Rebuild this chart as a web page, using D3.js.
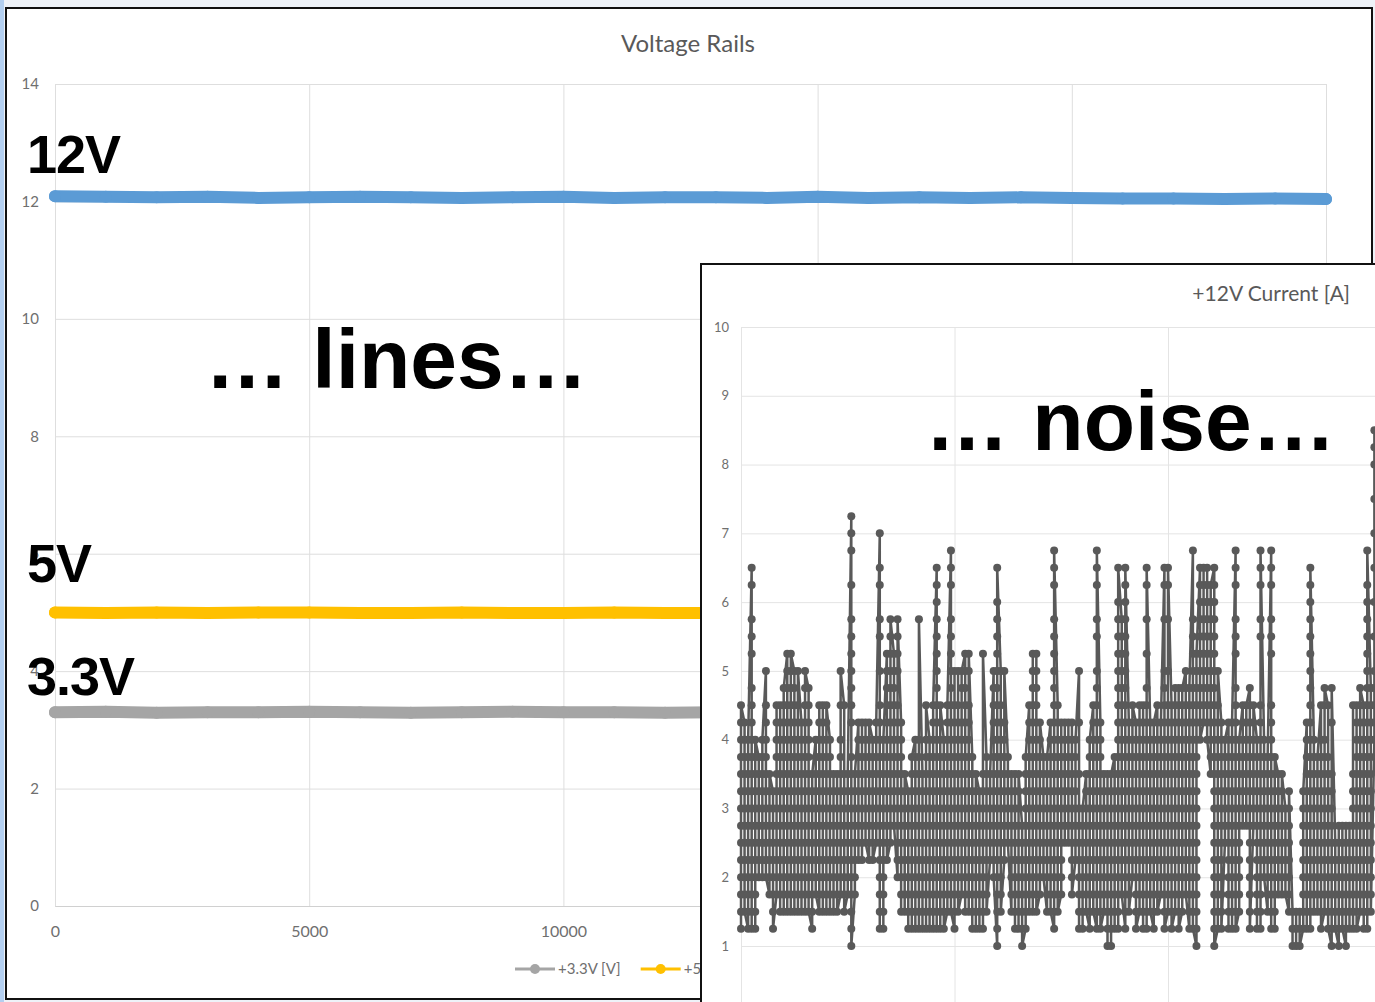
<!DOCTYPE html>
<html>
<head>
<meta charset="utf-8">
<script src="https://cdn.jsdelivr.net/npm/d3@7"></script>
<style>
  html, body { margin: 0; padding: 0; background: #eef2f8; }
  svg { display: block; }
</style>
</head>
<body>
<svg id="chart" width="1375" height="1002"></svg>
<script>
// ---- back chart: voltage rails ----
const RAIL_T = [0, 1000, 2000, 3000, 4000, 5000, 6000, 7000, 8000, 9000, 10000, 11000, 12000,
  13000, 14000, 15000, 16000, 17000, 18000, 19000, 20000, 21000, 22000, 23000, 24000, 25000];
const RAIL_12V = [12.09, 12.08, 12.07, 12.08, 12.06, 12.07, 12.08, 12.07, 12.06, 12.07, 12.08, 12.06, 12.07,
  12.07, 12.06, 12.08, 12.06, 12.07, 12.06, 12.07, 12.06, 12.05, 12.05, 12.04, 12.05, 12.04];
const RAIL_5V = [5.0, 4.99, 5.0, 4.99, 5.0, 5.0, 4.99, 4.99, 5.0, 4.99, 4.99, 5.0, 4.99,
  4.99, 4.99, 5.0, 4.99, 4.99, 4.99, 5.0, 4.99, 4.99, 4.99, 4.99, 4.99, 4.99];
const RAIL_3V3 = [3.3, 3.31, 3.29, 3.3, 3.3, 3.31, 3.3, 3.29, 3.3, 3.31, 3.3, 3.3, 3.29,
  3.3, 3.31, 3.3, 3.3, 3.29, 3.3, 3.3, 3.31, 3.3, 3.3, 3.29, 3.3, 3.3];
const RAIL_X_TICKS = [0, 5000, 10000, 15000, 20000, 25000];
const RAIL_Y_TICKS = [0, 2, 4, 6, 8, 10, 12, 14];
const RAIL_NAMES = ['+3.3V [V]', '+5V [V]', '+12V [V]'];

// ---- inset: +12V current, quantized readings per time bucket ("lo-hi|extra,levels") ----
const CURRENT_Y_TICKS = [1, 2, 3, 4, 5, 6, 7, 8, 9, 10];
const CURRENT_X_GRID = [0, 60, 120, 180];
const CURRENT_COLUMNS = [
  '1.25-4.5', '1.5-4.25', '1.25-4', '1.25-4|4.25,4.5,4.75,5.25,5.5,5.75,6.25,6.5', '1.25-4', '2-3.75', '2-4',
  '2-4|4.25,4.5,5', '1.75-3.5', '1.25-3.25', '1.75-4.5', '1.5-4.5', '1.5-4.5|4.75', '1.5-4.5|4.75,5,5.25',
  '1.5-4.5|4.75,5,5.25', '1.5-4.5|4.75,5', '1.5-4.5|5', '1.5-4.25', '1.5-4.5|4.75,5', '1.5-4.25|4.5,4.75',
  '1.25-3.5', '1.75-4', '1.5-4.5', '1.5-4.5', '1.5-4.5', '1.5-4', '1.5-3.5', '1.5-3.5', '1.75-3.75|4,4.5,5',
  '1.5-3.5|4.5', '1.75-3.5', '1-3.75|4.25,4.5,4.75,5,5.25,5.5,5.75,6.25,6.75,7,7.25', '1.75-3.5',
  '2.25-4.25', '2.25-4.25', '2.5-4.25', '2.25-4.25', '2.25-4', '2.5-4.25', '1.25-4.25|4.5,5,5.5,5.75,6.25,6.5,7',
  '1.25-4', '2.25-4.5|4.75,5,5.25', '2.5-4.75|5,5.25,5.5,5.75', '2.75-4.5|4.75,5,5.25', '2-4.25|4.5,5,5.25,5.5,5.75',
  '1.5-4.25', '1.5-3.5', '1.25-3.25', '1.25-3.75', '1.25-4', '1.25-4|5.75', '1.25-3.5', '1.25-4|4.5', '1.25-4',
  '1.25-4.25|4.5', '1.25-4.5|4.75,5,5.25,5.5,5.75,6,6.25,6.5', '1.25-4.25|4.5', '1.25-4', '1.5-4.25|4.5',
  '1.5-4.5|4.75,5,5.25,5.5,5.75,6.25,6.5,6.75', '1.25-4.5|5', '1.5-4.5|5', '1.75-4.25|4.75,5', '1.5-4.5|4.75,5,5.25',
  '1.5-4.5|5,5.25', '1.25-3.75', '1.25-3.5', '1.25-3.25', '1.25-3.5|5.25', '1.5-3.75', '2.25-3.5', '2-4.5|4.75,5',
  '1-4.5|4.75,5,5.25,5.5,5.75,6,6.5', '1.5-4.5|5', '2.25-4.25|5', '2.5-3.5|3.75', '1.5-3.25|3.5', '1.25-3.5',
  '1.25-3.25|3.5', '1-2.75', '1.25-3.75', '1.5-4.5', '1.5-4.5|4.75,5,5.25', '1.5-4.25|4.5,4.75,5,5.25', '1.75-4.25',
  '2-3.75', '1.5-3.75', '1.5-4.25', '1.25-4.25|4.5,4.75,5,5.25,5.5,5.75,6.25,6.5,6.75', '1.5-4.25|4.5',
  '1.75-4|4.25', '2.5-4.25', '2.5-4.25', '1.75-4.25', '2.25-4', '1.25-2.75|3,3.5,4.25,5', '1.25-3', '1.5-3.5',
  '1.25-4', '1.5-4.5', '1.25-4.5|4.75,5,5.5,5.75,6.25,6.5,6.75', '1.25-4.25', '1.5-3.5', '1-3.5', '1-3.5',
  '1.25-3.75', '1.25-4.5|4.75,5,5.25,5.5,5.75,6,6.5', '1.75-4.5|4.75,5,5.25,5.5,5.75',
  '1.25-4.5|4.75,5,5.25,5.5,5.75,6,6.25,6.5', '1.5-4.25', '2-4.5', '1.25-4.25', '1.5-4.5', '1.25-4.5',
  '1.25-4.5|4.75,5.25,5.75,6.25,6.5', '1.5-4.25', '1.25-4.25', '1.5-4.5', '1.75-4.25',
  '1.25-4.5|4.75,5,5.75,6.25,6.5', '1.5-4.5|5,5.75,6.25,6.5', '1.25-4.25|4.5', '1.5-4.75', '1.25-4.5|4.75',
  '1.5-4.25|4.5,4.75', '1.75-4.5|4.75,5', '1.25-4.5|4.75', '1.25-4.5|4.75,5,5.25,5.5,5.75,6.75', '1-4.75|5,5.25',
  '4-5.75|6,6.25,6.5', '4.25-6|6.25,6.5', '4-6.25|6.5', '3.5-6|6.25', '1-5.75|6,6.25,6.5', '1.25-4.5|5',
  '1.25-4.25', '2.5-4', '1.25-4.25', '1.25-4|4.25', '1.25-4.25|4.5,4.75,5.25,5.5,5.75,6.25,6.5,6.75', '1.5-4',
  '2.75-4.25|4.5', '2.75-4.25|4.5', '1.25-4.25|4.5,4.75', '2.75-4.25|4.5', '1.25-4',
  '1.25-4.25|4.5,5.5,5.75,6.25,6.5,6.75', '2-4', '1.5-3.75', '1.25-4|4.25,4.5,5.25,5.5,5.75,6.25,6.5,6.75',
  '1.25-3.75', '1.75-3.5', '1.75-3.5', '1.75-3', '1.5-3.25', '1-1.5', '1-1.5', '1-1.5', '1.25-3.25',
  '1.25-4|4.25', '1.25-4|4.25,4.5,4.75,5,5.25,5.5,5.75,6,6.25,6.5', '1.5-4', '1.5-3.75', '1.25-4|4.5',
  '1.5-4|4.5,4.75', '1.25-3.75|4.5', '1-3.5|4.25,4.75', '1.25-2.5', '1-2.75', '1.25-2.75', '1-2.75',
  '1.25-2.75', '1.25-3.5|4.5', '1.25-4.5', '1.5-4.75', '1.25-4.5', '1.25-4.5|4.75,5,5.25,5.5,5.75,6,6.25,6.75',
  '1.5-4.25|4.5,4.75', '4-5|5.5,6,6.5,7,7.5,8,8.25,8.5'
];

const COLORS = { v12: '#5b9bd5', v5: '#ffc000', v33: '#a5a5a5', current: '#595959' };
const CHROME = { grid: '#dedede', axis: '#d0d0d0', tick: '#6f6f6f', title: '#595959' };
const FONT = 'Lato, "Liberation Sans", Arial, sans-serif';
const BIG = '"Liberation Sans", Arial, sans-serif';

const W = 1375;
const H = 1002;
const svg = d3.select('#chart');

svg.append('rect').attr('width', W).attr('height', H).attr('fill', '#eef2f8');
svg.append('rect').attr('width', 4).attr('height', H).attr('fill', '#b3cff0');

// ---- back chart frame + plot ----
svg.append('rect')
  .attr('x', 6).attr('y', 8).attr('width', 1366).attr('height', 991)
  .attr('fill', '#fff').attr('stroke', '#111').attr('stroke-width', 2);

const box = { left: 55, right: 1326, top: 84, bottom: 906 };
const x = d3.scaleLinear().domain([0, 25000]).range([box.left, box.right]);
const y = d3.scaleLinear().domain([0, 14]).range([box.bottom, box.top]);

svg.append('g')
  .attr('transform', `translate(${box.left},0)`)
  .call(d3.axisLeft(y).tickValues(RAIL_Y_TICKS).tickSize(-(box.right - box.left)).tickPadding(16))
  .call((a) => a.select('.domain').remove())
  .call((a) => a.selectAll('line').attr('stroke', CHROME.grid))
  .call((a) => a.selectAll('text').attr('fill', CHROME.tick).attr('font-size', 15).attr('font-family', FONT));

svg.append('g')
  .attr('transform', `translate(0,${box.bottom})`)
  .call(d3.axisBottom(x).tickValues(RAIL_X_TICKS).tickFormat(d3.format('d'))
    .tickSize(-(box.bottom - box.top)).tickSizeOuter(0).tickPadding(20))
  .call((a) => a.select('.domain').attr('stroke', CHROME.axis))
  .call((a) => a.selectAll('line').attr('stroke', CHROME.grid))
  .call((a) => a.selectAll('text').attr('fill', CHROME.tick).attr('font-size', 16).attr('font-family', FONT));

svg.append('text')
  .attr('x', 688).attr('y', 52)
  .attr('text-anchor', 'middle')
  .attr('fill', CHROME.title)
  .attr('font-family', FONT)
  .attr('font-size', 24)
  .text('Voltage Rails');

const rails = [
  { name: RAIL_NAMES[0], values: RAIL_3V3, color: COLORS.v33 },
  { name: RAIL_NAMES[1], values: RAIL_5V, color: COLORS.v5 },
  { name: RAIL_NAMES[2], values: RAIL_12V, color: COLORS.v12 }
];

const railLine = d3.line().x((d) => x(d[0])).y((d) => y(d[1]));

rails.forEach((r) => {
  const pts = RAIL_T.map((t, i) => [t, r.values[i]]);
  svg.append('path')
    .datum(pts)
    .attr('d', railLine)
    .attr('fill', 'none')
    .attr('stroke', r.color)
    .attr('stroke-width', 12)
    .attr('stroke-linecap', 'round')
    .attr('stroke-linejoin', 'round');
  svg.append('g')
    .selectAll('circle')
    .data(pts)
    .join('circle')
    .attr('cx', (d) => x(d[0]))
    .attr('cy', (d) => y(d[1]))
    .attr('r', 6)
    .attr('fill', r.color);
});

// legend (mostly hidden behind the inset)
const legend = svg.append('g').attr('transform', 'translate(515,969)');
let lx = 0;
rails.forEach((r) => {
  const g = legend.append('g').attr('transform', `translate(${lx},0)`);
  g.append('line').attr('x1', 0).attr('x2', 40).attr('stroke', r.color).attr('stroke-width', 3);
  g.append('circle').attr('cx', 20).attr('r', 5).attr('fill', r.color);
  const t = g.append('text')
    .attr('x', 43).attr('dy', '0.35em')
    .attr('fill', CHROME.tick)
    .attr('font-family', FONT)
    .attr('font-size', 15)
    .text(r.name);
  lx += 43 + t.node().getComputedTextLength() + 20;
});

// big annotations on the back chart
const bigLabel = (txt, bx, by, size) =>
  svg.append('text')
    .attr('x', bx).attr('y', by)
    .attr('font-family', BIG)
    .attr('font-weight', 700)
    .attr('font-size', size)
    .attr('fill', '#000')
    .text(txt);

bigLabel('12V', 27, 173, 54).attr('letter-spacing', -1);
bigLabel('5V', 27, 582, 54).attr('letter-spacing', -1);
bigLabel('3.3V', 27, 695, 54).attr('letter-spacing', -1);
bigLabel('\u2026 lines\u2026', 205, 388, 84);

// ---- inset: +12V current ----
svg.append('rect')
  .attr('x', 701).attr('y', 264).attr('width', 700).attr('height', 760)
  .attr('fill', '#fff').attr('stroke', '#111').attr('stroke-width', 2);

const xC = d3.scaleLinear().domain([0, 60]).range([741, 954.5]);
const yC = d3.scaleLinear().domain([0, 10]).range([1014.8, 327]);

svg.append('g')
  .attr('transform', `translate(${xC(0)},0)`)
  .call(d3.axisLeft(yC).tickValues(CURRENT_Y_TICKS).tickSize(-700).tickPadding(12))
  .call((a) => a.select('.domain').remove())
  .call((a) => a.selectAll('line').attr('stroke', '#e4e4e4'))
  .call((a) => a.selectAll('text').attr('fill', CHROME.tick).attr('font-size', 13).attr('font-family', FONT));

svg.append('g')
  .attr('transform', `translate(0,${yC(0)})`)
  .call(d3.axisBottom(xC).tickValues(CURRENT_X_GRID).tickSize(-(yC(0) - yC(10))).tickFormat(''))
  .call((a) => a.select('.domain').remove())
  .call((a) => a.selectAll('line').attr('stroke', '#e4e4e4'));

svg.append('text')
  .attr('x', 1350).attr('y', 301)
  .attr('text-anchor', 'end')
  .attr('fill', CHROME.title)
  .attr('font-family', FONT)
  .attr('font-size', 21)
  .text('+12V Current [A]');

const currentPoints = CURRENT_COLUMNS.flatMap((col, t) => {
  const [range, extra] = col.split('|');
  const [lo, hi] = range.split('-').map(Number);
  const levels = d3.range(Math.round(lo * 4), Math.round(hi * 4) + 1).map((k) => k / 4);
  if (extra) levels.push(...extra.split(',').map(Number));
  levels.sort((a, b) => a - b);
  if (t % 2) levels.reverse();
  return levels.map((v) => ({ t, v }));
});

svg.append('path')
  .datum(currentPoints)
  .attr('d', d3.line().x((d) => xC(d.t)).y((d) => yC(d.v)))
  .attr('fill', 'none')
  .attr('stroke', COLORS.current)
  .attr('stroke-width', 2.5);

svg.append('g')
  .selectAll('circle')
  .data(currentPoints)
  .join('circle')
  .attr('cx', (d) => xC(d.t))
  .attr('cy', (d) => yC(d.v))
  .attr('r', 4)
  .attr('fill', COLORS.current);

bigLabel('\u2026 noise\u2026', 925, 450, 84);
</script>
</body>
</html>
